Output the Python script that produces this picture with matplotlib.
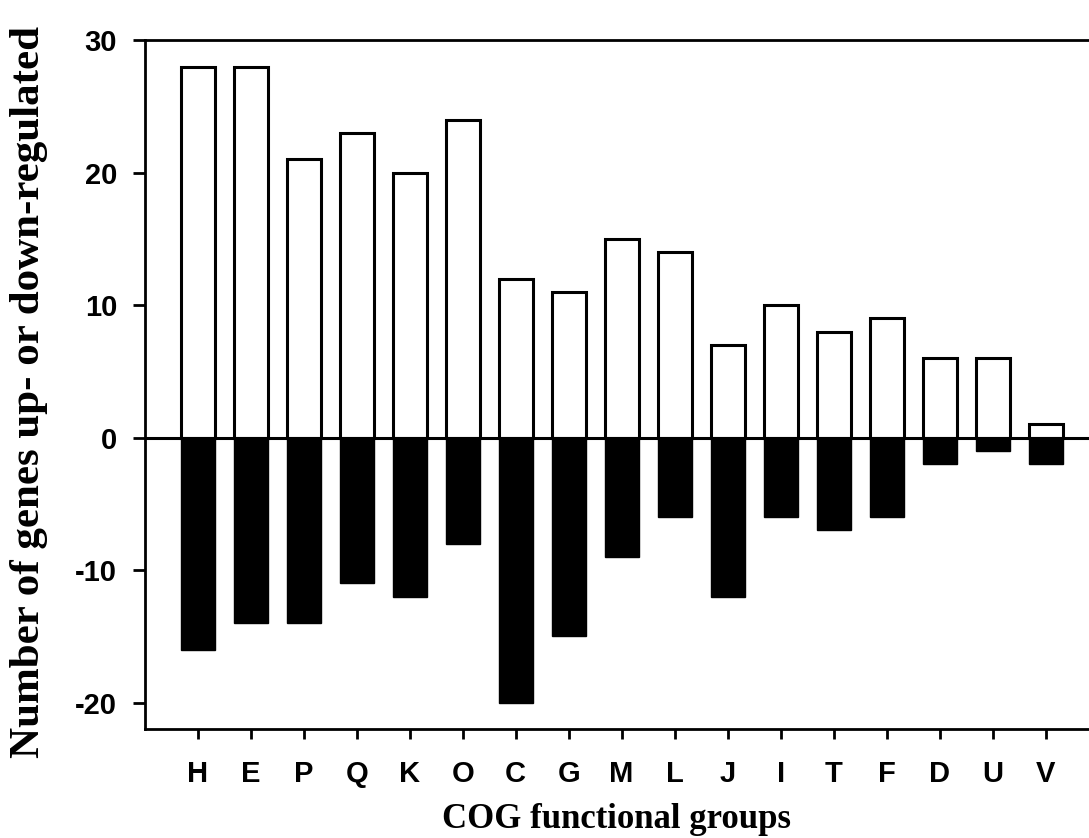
import numpy as np
import matplotlib
matplotlib.use('Agg')
import matplotlib.pyplot as plt

# COG functional group counts
groups = ['H', 'E', 'P', 'Q', 'K', 'O', 'C', 'G', 'M', 'L', 'J', 'I', 'T', 'F', 'D', 'U', 'V']
up_regulated = [28, 28, 21, 23, 20, 24, 12, 11, 15, 14, 7, 10, 8, 9, 6, 6, 1]
down_regulated = [-16, -14, -14, -11, -12, -8, -20, -15, -9, -6, -12, -6, -7, -6, -2, -1, -2]
y_ticks = [-20, -10, 0, 10, 20, 30]

x = np.arange(len(groups))

fig = plt.figure(figsize=(10.89, 8.38), dpi=100)
ax = fig.add_axes([0.133, 0.130, 0.867, 0.822])

ax.bar(x, up_regulated, width=0.64, color='white', edgecolor='black', linewidth=2.2)
ax.bar(x, down_regulated, width=0.64, color='black', edgecolor='black', linewidth=1.0)
ax.axhline(0, color='black', linewidth=2.2)

ax.set_xlim(-1, 16.82)
ax.set_ylim(-22, 30)
ax.set_xticks(x)
ax.set_xticklabels(groups, fontfamily='Liberation Sans', fontweight='bold', fontsize=21)
ax.set_yticks(y_ticks)
ax.set_yticklabels([str(v) for v in y_ticks], fontfamily='Liberation Sans', fontweight='bold', fontsize=21)

ax.tick_params(axis='x', direction='out', length=7, width=2, pad=15)
ax.tick_params(axis='y', direction='out', length=9, width=2, pad=11)

ax.spines['right'].set_visible(False)
for side in ('left', 'bottom', 'top'):
    ax.spines[side].set_linewidth(2)

ax.set_xlabel('COG functional groups', fontfamily='Liberation Serif', fontweight='bold', fontsize=25)
ax.xaxis.label.set_va('baseline')
ax.xaxis.set_label_coords(0.5, -0.1437)

ax.set_ylabel('Number of genes up- or down-regulated', fontfamily='Liberation Serif', fontweight='bold',
              fontsize=31)
ax.yaxis.label.set_va('center')
ax.yaxis.set_label_coords(-0.123, 0.49)

fig.savefig('out.png', dpi=100)
